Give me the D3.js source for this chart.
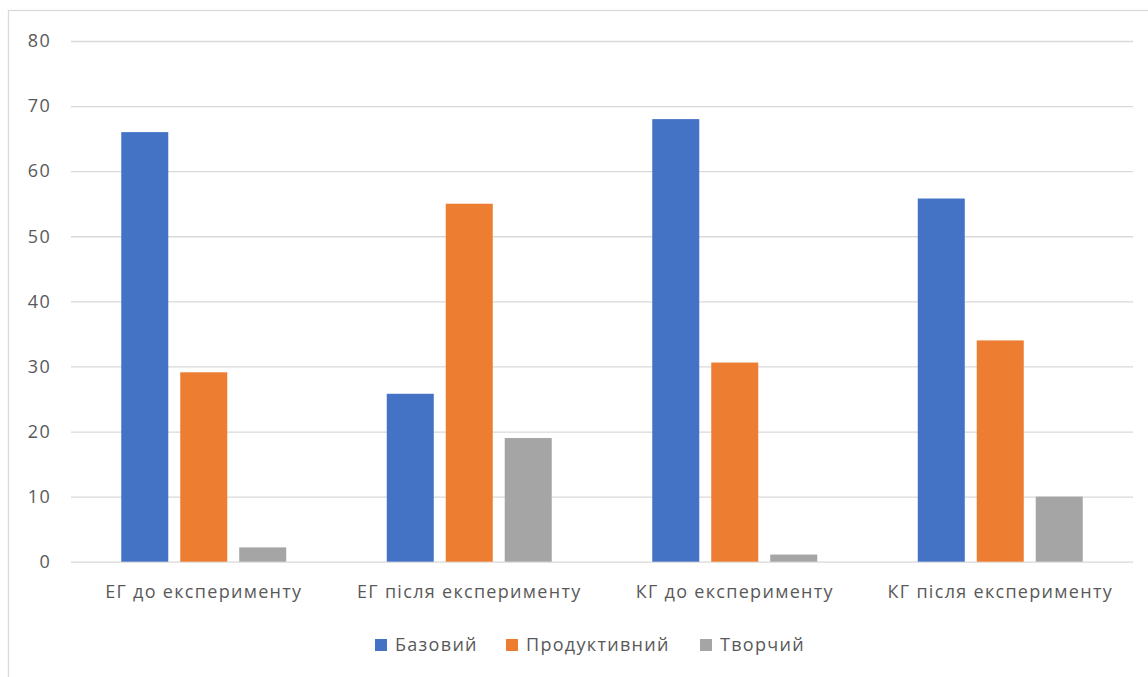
<!DOCTYPE html>
<html>
<head>
<meta charset="utf-8">
<script src="https://cdn.jsdelivr.net/npm/d3@7"></script>
<style>
  html, body { margin: 0; padding: 0; background: #fff; }
  svg { display: block; }
  text { font-family: "Open Sans", "Noto Sans", sans-serif; fill: #595959; }
</style>
</head>
<body>
<svg id="chart" width="1148" height="677"></svg>
<script>
const categories = ["ЕГ до експерименту", "ЕГ після експерименту", "КГ до експерименту", "КГ після експерименту"];
const seriesNames = ["Базовий", "Продуктивний", "Творчий"];
const basovyi = [66, 25.8, 68, 55.8];
const produktyvnyi = [29.1, 55, 30.6, 34];
const tvorchyi = [2.2, 19, 1.1, 10];
const yTicks = [0, 10, 20, 30, 40, 50, 60, 70, 80];
const colors = ["#4472C4", "#ED7D31", "#A5A5A5"];

const seriesValues = [basovyi, produktyvnyi, tvorchyi];
const data = categories.map((c, i) => ({
  category: c,
  values: seriesNames.map((s, j) => ({ series: s, value: seriesValues[j][i] }))
}));

const FONT = '"Open Sans", "Noto Sans", sans-serif';
const FS = 18;
const LS = "1.3px";

const svg = d3.select("#chart");
const plot = { left: 71, right: 1133, top: 41, bottom: 561.7 };

// outer chart border
svg.append("rect")
  .attr("x", 8.5).attr("y", 10.5)
  .attr("width", 1160).attr("height", 700)
  .attr("fill", "none").attr("stroke", "#d9d9d9").attr("stroke-width", 1.3);

const y = d3.scaleLinear().domain([0, 80]).range([plot.bottom, plot.top]);
const x0 = d3.scaleBand().domain(categories).range([plot.left, plot.right]).padding(0);
const x1 = d3.scaleBand().domain(seriesNames).range([0, x0.bandwidth()])
  .paddingInner(0.203).paddingOuter(0.852);
const color = d3.scaleOrdinal().domain(seriesNames).range(colors);

// gridlines + y labels
const yAxis = d3.axisLeft(y).tickValues(yTicks).tickSize(-(plot.right - plot.left)).tickPadding(20);
const gy = svg.append("g").attr("transform", `translate(${plot.left},0)`).call(yAxis);
gy.select(".domain").remove();
gy.selectAll(".tick line").attr("stroke", "#d9d9d9").attr("stroke-width", 1.3);
gy.selectAll(".tick text").attr("font-size", FS).attr("fill", "#595959")
  .style("font-family", FONT).style("letter-spacing", LS);

// bars
const groups = svg.append("g").selectAll("g").data(data).join("g")
  .attr("transform", d => `translate(${x0(d.category)},0)`);
groups.selectAll("rect").data(d => d.values).join("rect")
  .attr("x", d => x1(d.series))
  .attr("y", d => y(d.value))
  .attr("width", x1.bandwidth())
  .attr("height", d => y(0) - y(d.value))
  .attr("fill", d => color(d.series));

// x axis labels
const xAxis = d3.axisBottom(x0).tickSize(0).tickPadding(24);
const gx = svg.append("g").attr("transform", `translate(0,${plot.bottom})`).call(xAxis);
gx.select(".domain").remove();
gx.selectAll(".tick text").attr("font-size", FS).attr("fill", "#595959")
  .style("font-family", FONT).style("letter-spacing", LS);

// legend
const legendItems = [
  { name: seriesNames[0], sx: 375 },
  { name: seriesNames[1], sx: 506 },
  { name: seriesNames[2], sx: 700 }
];
const lg = svg.append("g");
legendItems.forEach(it => {
  lg.append("rect").attr("x", it.sx).attr("y", 639).attr("width", 12).attr("height", 12)
    .attr("fill", color(it.name));
  lg.append("text").attr("x", it.sx + 20).attr("y", 645).attr("dy", "0.35em")
    .attr("font-size", FS).style("letter-spacing", LS).text(it.name);
});
</script>
</body>
</html>
